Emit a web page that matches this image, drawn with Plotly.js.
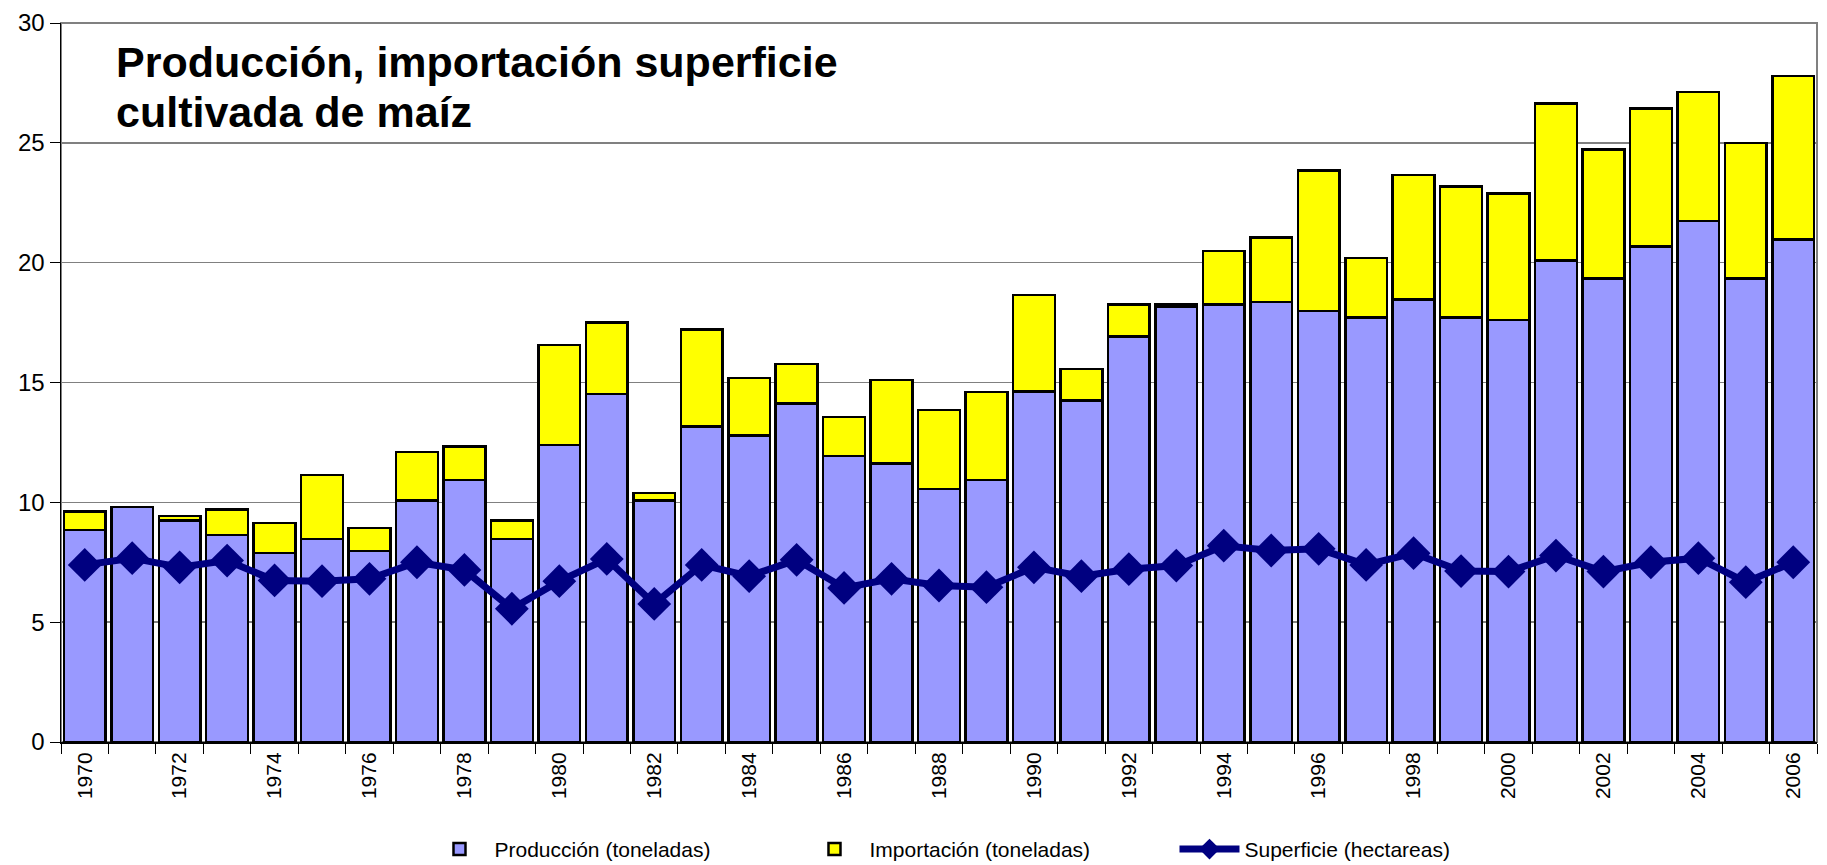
<!DOCTYPE html>
<html>
<head>
<meta charset="utf-8">
<script src="https://cdn.plot.ly/plotly-3.0.1.min.js"></script>
<style>html,body{margin:0;padding:0;background:#fff;}#chart{width:1827px;height:865px;}</style>
</head>
<body>
<div id="chart"></div>
<script>
const years = ["1970","1971","1972","1973","1974","1975","1976","1977","1978","1979","1980","1981","1982","1983","1984","1985","1986","1987","1988","1989","1990","1991","1992","1993","1994","1995","1996","1997","1998","1999","2000","2001","2002","2003","2004","2005","2006"];
const produccion = [8.85,9.8,9.24,8.64,7.88,8.46,7.97,10.08,10.94,8.46,12.39,14.51,10.08,13.17,12.78,14.13,11.93,11.63,10.56,10.94,14.63,14.24,16.92,18.17,18.26,18.35,17.99,17.71,18.47,17.71,17.6,20.1,19.35,20.67,21.74,19.35,20.97];
const importacion = [0.76,0.0,0.18,1.07,1.25,2.69,0.96,2.03,1.38,0.78,4.17,2.99,0.31,4.05,2.41,1.65,1.63,3.47,3.29,3.67,4.02,1.33,1.34,0.09,2.23,2.71,5.86,2.48,5.18,5.47,5.28,6.54,5.37,5.77,5.39,5.65,6.81];
const superficie = [7.39,7.67,7.29,7.57,6.74,6.71,6.81,7.5,7.18,5.56,6.71,7.64,5.76,7.39,6.92,7.6,6.43,6.81,6.53,6.46,7.29,6.92,7.21,7.36,8.19,7.99,8.06,7.39,7.88,7.13,7.11,7.78,7.11,7.5,7.67,6.67,7.5];
const tickLabels = years.map((y, i) => (i % 2 === 0 ? y : ""));
const titleLine1 = "Producción, importación superficie";
const titleLine2 = "cultivada de maíz";
const yTicks = [0, 5, 10, 15, 20, 25, 30];

const sans = "Liberation Sans, Arial, sans-serif";

const traces = [
  {type: "bar", name: "Producción (toneladas)", x: years, y: produccion,
   marker: {color: "#9999FF", line: {color: "#000000", width: 2.5}}},
  {type: "bar", name: "Importación (toneladas)", x: years, y: importacion,
   marker: {color: "#FFFF00", line: {color: "#000000", width: 2.5}}},
  {type: "scatter", mode: "lines+markers", name: "Superficie (hectareas)", x: years, y: superficie,
   line: {color: "#000080", width: 7}, marker: {symbol: "diamond", size: 26, color: "#000080"}}
];

const layout = {
  width: 1827, height: 865,
  margin: {l: 61, r: 10, t: 23, b: 123},
  paper_bgcolor: "#ffffff", plot_bgcolor: "#ffffff",
  barmode: "stack", bargap: 0.12,
  showlegend: true,
  legend: {orientation: "h", x: 0.207, xanchor: "left", yref: "container", y: 0.018, yanchor: "middle",
           font: {family: sans, size: 21, color: "#000"}, entrywidth: 300, entrywidthmode: "pixels",
           itemwidth: 60, traceorder: "normal"},
  xaxis: {type: "category", range: [-0.5, 36.5], tickmode: "array", tickvals: years, ticktext: tickLabels, tickangle: -90,
          tickson: "boundaries", ticks: "outside", ticklen: 10, tickcolor: "#000", tickwidth: 1,
          showline: true, linecolor: "#000", linewidth: 2, showgrid: false,
          tickfont: {family: sans, size: 21, color: "#000"}},
  yaxis: {range: [0, 30], tickmode: "array", tickvals: yTicks, ticks: "outside", ticklen: 10, tickcolor: "#000",
          showline: true, linecolor: "#000", linewidth: 1.5, showgrid: true, gridcolor: "#808080", gridwidth: 1.5,
          zeroline: false, tickfont: {family: sans, size: 24, color: "#000"}},
  shapes: [{type: "rect", xref: "paper", yref: "paper", x0: 0, x1: 1, y0: 0, y1: 1,
            line: {color: "#808080", width: 2}, layer: "below"}],
  annotations: [
    {text: "<b>" + titleLine1 + "</b>", xref: "paper", yref: "paper", x: 0.030, y: 0.946,
     xanchor: "left", yanchor: "middle", align: "left", showarrow: false,
     font: {family: sans, size: 43, color: "#000"}},
    {text: "<b>" + titleLine2 + "</b>", xref: "paper", yref: "paper", x: 0.030, y: 0.876,
     xanchor: "left", yanchor: "middle", align: "left", showarrow: false,
     font: {family: sans, size: 43, color: "#000"}}
  ]
};

Plotly.newPlot("chart", traces, layout, {displayModeBar: false, staticPlot: true});
</script>
</body>
</html>
